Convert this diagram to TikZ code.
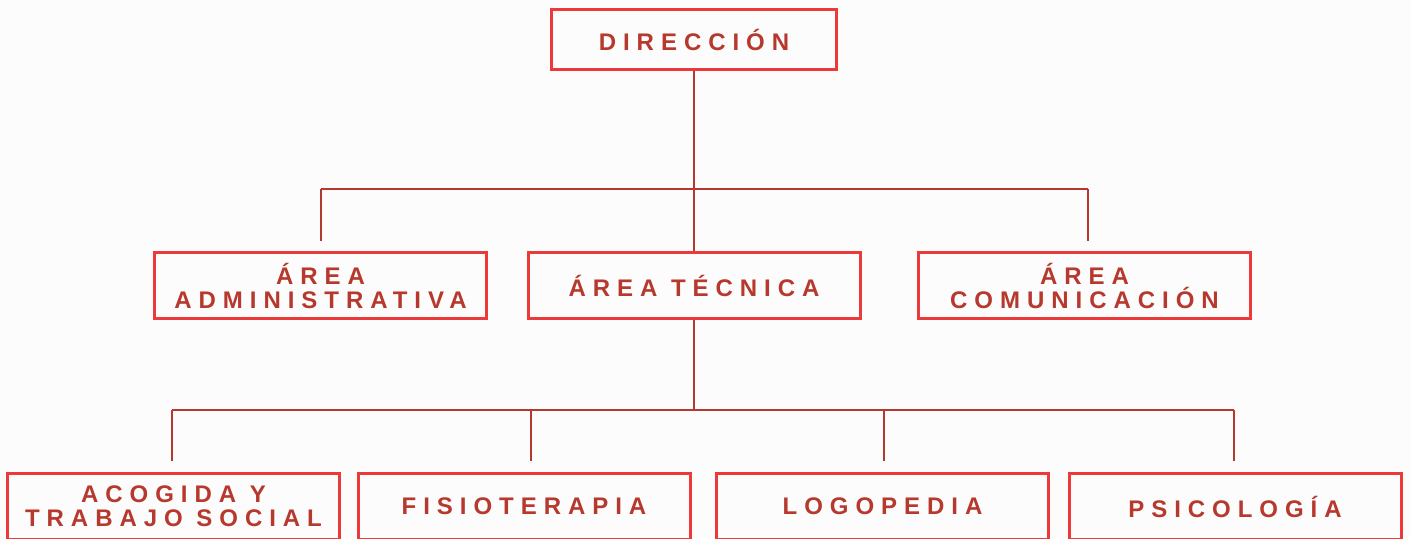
\documentclass[tikz,border=0pt]{standalone}
\usepackage{fontspec}
\newfontfamily\orgfont{Liberation Sans}[LetterSpace=29]
\definecolor{boxred}{RGB}{236,58,58}
\definecolor{txtred}{RGB}{183,56,45}
\definecolor{linered}{RGB}{181,57,46}
\definecolor{paper}{RGB}{252,252,252}
\tikzset{
	box/.style={draw=boxred,line width=1.5pt,text=txtred,align=center,inner sep=0pt,
		minimum width=166pt,minimum height=33pt,
		font=\orgfont\bfseries\fontsize{12}{12}\selectfont},
	link/.style={draw=linered,line width=1pt},
}
\begin{document}
\begin{tikzpicture}[x=0.5pt,y=-0.5pt]
			\useasboundingbox (0,0) rectangle (1410,538);
			\fill[paper] (0,0) rectangle (1410,538);
			\draw (694,39.5) node (dir)[box,minimum width=142.5pt,minimum height=30pt]{DIRECCIÓN};
			\draw (320.5,285.5) node (adm)[box]{ÁREA\\ADMINISTRATIVA};
			\draw (694,285.5) node (tec)[box]{ÁREA TÉCNICA};
			\draw (1084.5,285.5) node (com)[box]{ÁREA\\COMUNICACIÓN};
			\draw (173.5,506.5) node (aco)[box]{ACOGIDA Y\\TRABAJO SOCIAL};
			\draw (524,506.5) node (fis)[box]{FISIOTERAPIA};
			\draw (882.5,506.5) node (log)[box]{LOGOPEDIA};
			\draw (1235,506.5) node (psi)[box]{PSICOLOGÍA};

			\coordinate (ta) at (321,189);
			\coordinate (tc) at (1088,189);
			\draw[link] (dir)--(tec);
			\draw[link] (ta)--(tc);
			\draw[link,shorten >=5pt] (ta)--(ta |- adm.north);
			\draw[link,shorten >=5pt] (tc)--(tc |- com.north);

			\coordinate (ba) at (172,410);
			\coordinate (bf) at (531,410);
			\coordinate (bl) at (884,410);
			\coordinate (bp) at (1234,410);
			\draw[link] (tec)--(tec |- ba);
			\draw[link] (ba)--(bp);
			\draw[link,shorten >=5.5pt] (ba)--(ba |- aco.north);
			\draw[link,shorten >=5.5pt] (bf)--(bf |- fis.north);
			\draw[link,shorten >=5.5pt] (bl)--(bl |- log.north);
			\draw[link,shorten >=5.5pt] (bp)--(bp |- psi.north);
		\end{tikzpicture}
\end{document}
